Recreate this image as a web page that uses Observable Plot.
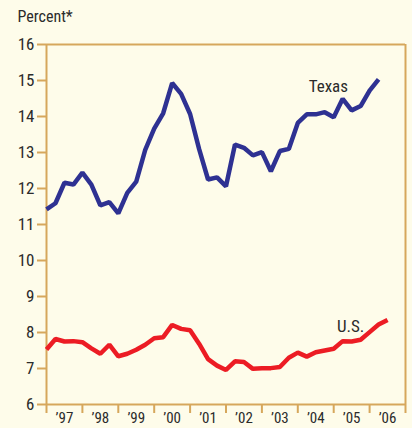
<!DOCTYPE html>
<html>
<head>
<meta charset="utf-8">
<script src="https://cdn.jsdelivr.net/npm/d3@7"></script>
<script src="https://cdn.jsdelivr.net/npm/@observablehq/plot@0.6"></script>
<style>
  html, body { margin: 0; padding: 0; background: #FEFCEA; }
  #chart svg { display: block; }
</style>
</head>
<body>
<div id="chart"></div>
<script>
// Quarterly values, starting 1997 Q1
const startYear = 1997;
const texas = [11.42, 11.59, 12.16, 12.11, 12.44, 12.11, 11.53, 11.62, 11.31, 11.88,
               12.19, 13.07, 13.66, 14.09, 14.93, 14.63, 14.07, 13.10, 12.25, 12.31,
               12.06, 13.22, 13.13, 12.92, 13.01, 12.48, 13.04, 13.10, 13.82, 14.06,
               14.06, 14.12, 13.98, 14.49, 14.17, 14.29, 14.72, 15.03];
const us = [7.53, 7.82, 7.75, 7.76, 7.73, 7.56, 7.41, 7.66, 7.34, 7.41,
            7.52, 7.66, 7.84, 7.87, 8.21, 8.10, 8.06, 7.69, 7.26, 7.08,
            6.96, 7.20, 7.18, 6.99, 7.01, 7.01, 7.04, 7.30, 7.44, 7.33,
            7.45, 7.50, 7.55, 7.76, 7.75, 7.80, 8.01, 8.22, 8.35];
const years = [1997, 1998, 1999, 2000, 2001, 2002, 2003, 2004, 2005, 2006];
const yearLabels = ["’97", "’98", "’99", "’00", "’01", "’02", "’03", "’04", "’05", "’06"];
const yTicks = [6, 7, 8, 9, 10, 11, 12, 13, 14, 15, 16];
const seriesLabels = [
  {name: "Texas", x: 2004.85, y: 14.83},
  {name: "U.S.", x: 2005.47, y: 8.17}
];

const texasData = texas.map((v, i) => ({t: startYear + i / 4, v}));
const usData = us.map((v, i) => ({t: startYear + i / 4, v}));
const yearData = years.map((y, i) => ({x: y + 0.5, label: yearLabels[i]}));
const tickYears = years.concat([years[years.length - 1] + 1]);

const axisColor = "#D6A75C";
const textColor = "#2b2b2b";
const font = "'Liberation Sans Narrow', 'Arial Narrow', 'Roboto Condensed', sans-serif";

const chart = Plot.plot({
  width: 412,
  height: 428,
  marginLeft: 46,
  marginRight: 7,
  marginTop: 44,
  marginBottom: 24,
  style: {background: "#FEFCEA", fontFamily: font, fontSize: "17px", color: textColor},
  x: {type: "linear", domain: [1997, 2007]},
  y: {type: "linear", domain: [6, 16]},
  marks: [
    Plot.ruleY([16], {stroke: axisColor, strokeWidth: 2}),
    Plot.ruleY([6], {stroke: axisColor, strokeWidth: 2}),
    Plot.ruleX([1997, 2007], {stroke: axisColor, strokeWidth: 2}),
    Plot.axisY({ticks: yTicks, tickSize: 9, tickPadding: 3, stroke: axisColor, strokeWidth: 2,
                fill: textColor, fontSize: 17, label: null}),
    Plot.axisX({ticks: tickYears, tickSize: 9, tickFormat: () => "", stroke: axisColor, strokeWidth: 2, label: null}),
    Plot.text(yearData, {x: "x", y: 6, text: "label", dy: 14, lineAnchor: "middle", fill: textColor, fontSize: 15}),
    Plot.line(texasData, {x: "t", y: "v", stroke: "#2E3192", strokeWidth: 4.5, strokeLinejoin: "miter", strokeLinecap: "butt"}),
    Plot.line(usData, {x: "t", y: "v", stroke: "#EC1C24", strokeWidth: 4.5, strokeLinejoin: "miter", strokeLinecap: "butt"}),
    Plot.text(seriesLabels, {x: "x", y: "y", text: "name", fill: textColor, fontSize: 17}),
    Plot.text(["Percent*"], {frameAnchor: "top-left", dx: -29, dy: -28, lineAnchor: "middle", textAnchor: "start", fill: textColor, fontSize: 16})
  ]
});
document.getElementById("chart").appendChild(chart);
</script>
</body>
</html>
